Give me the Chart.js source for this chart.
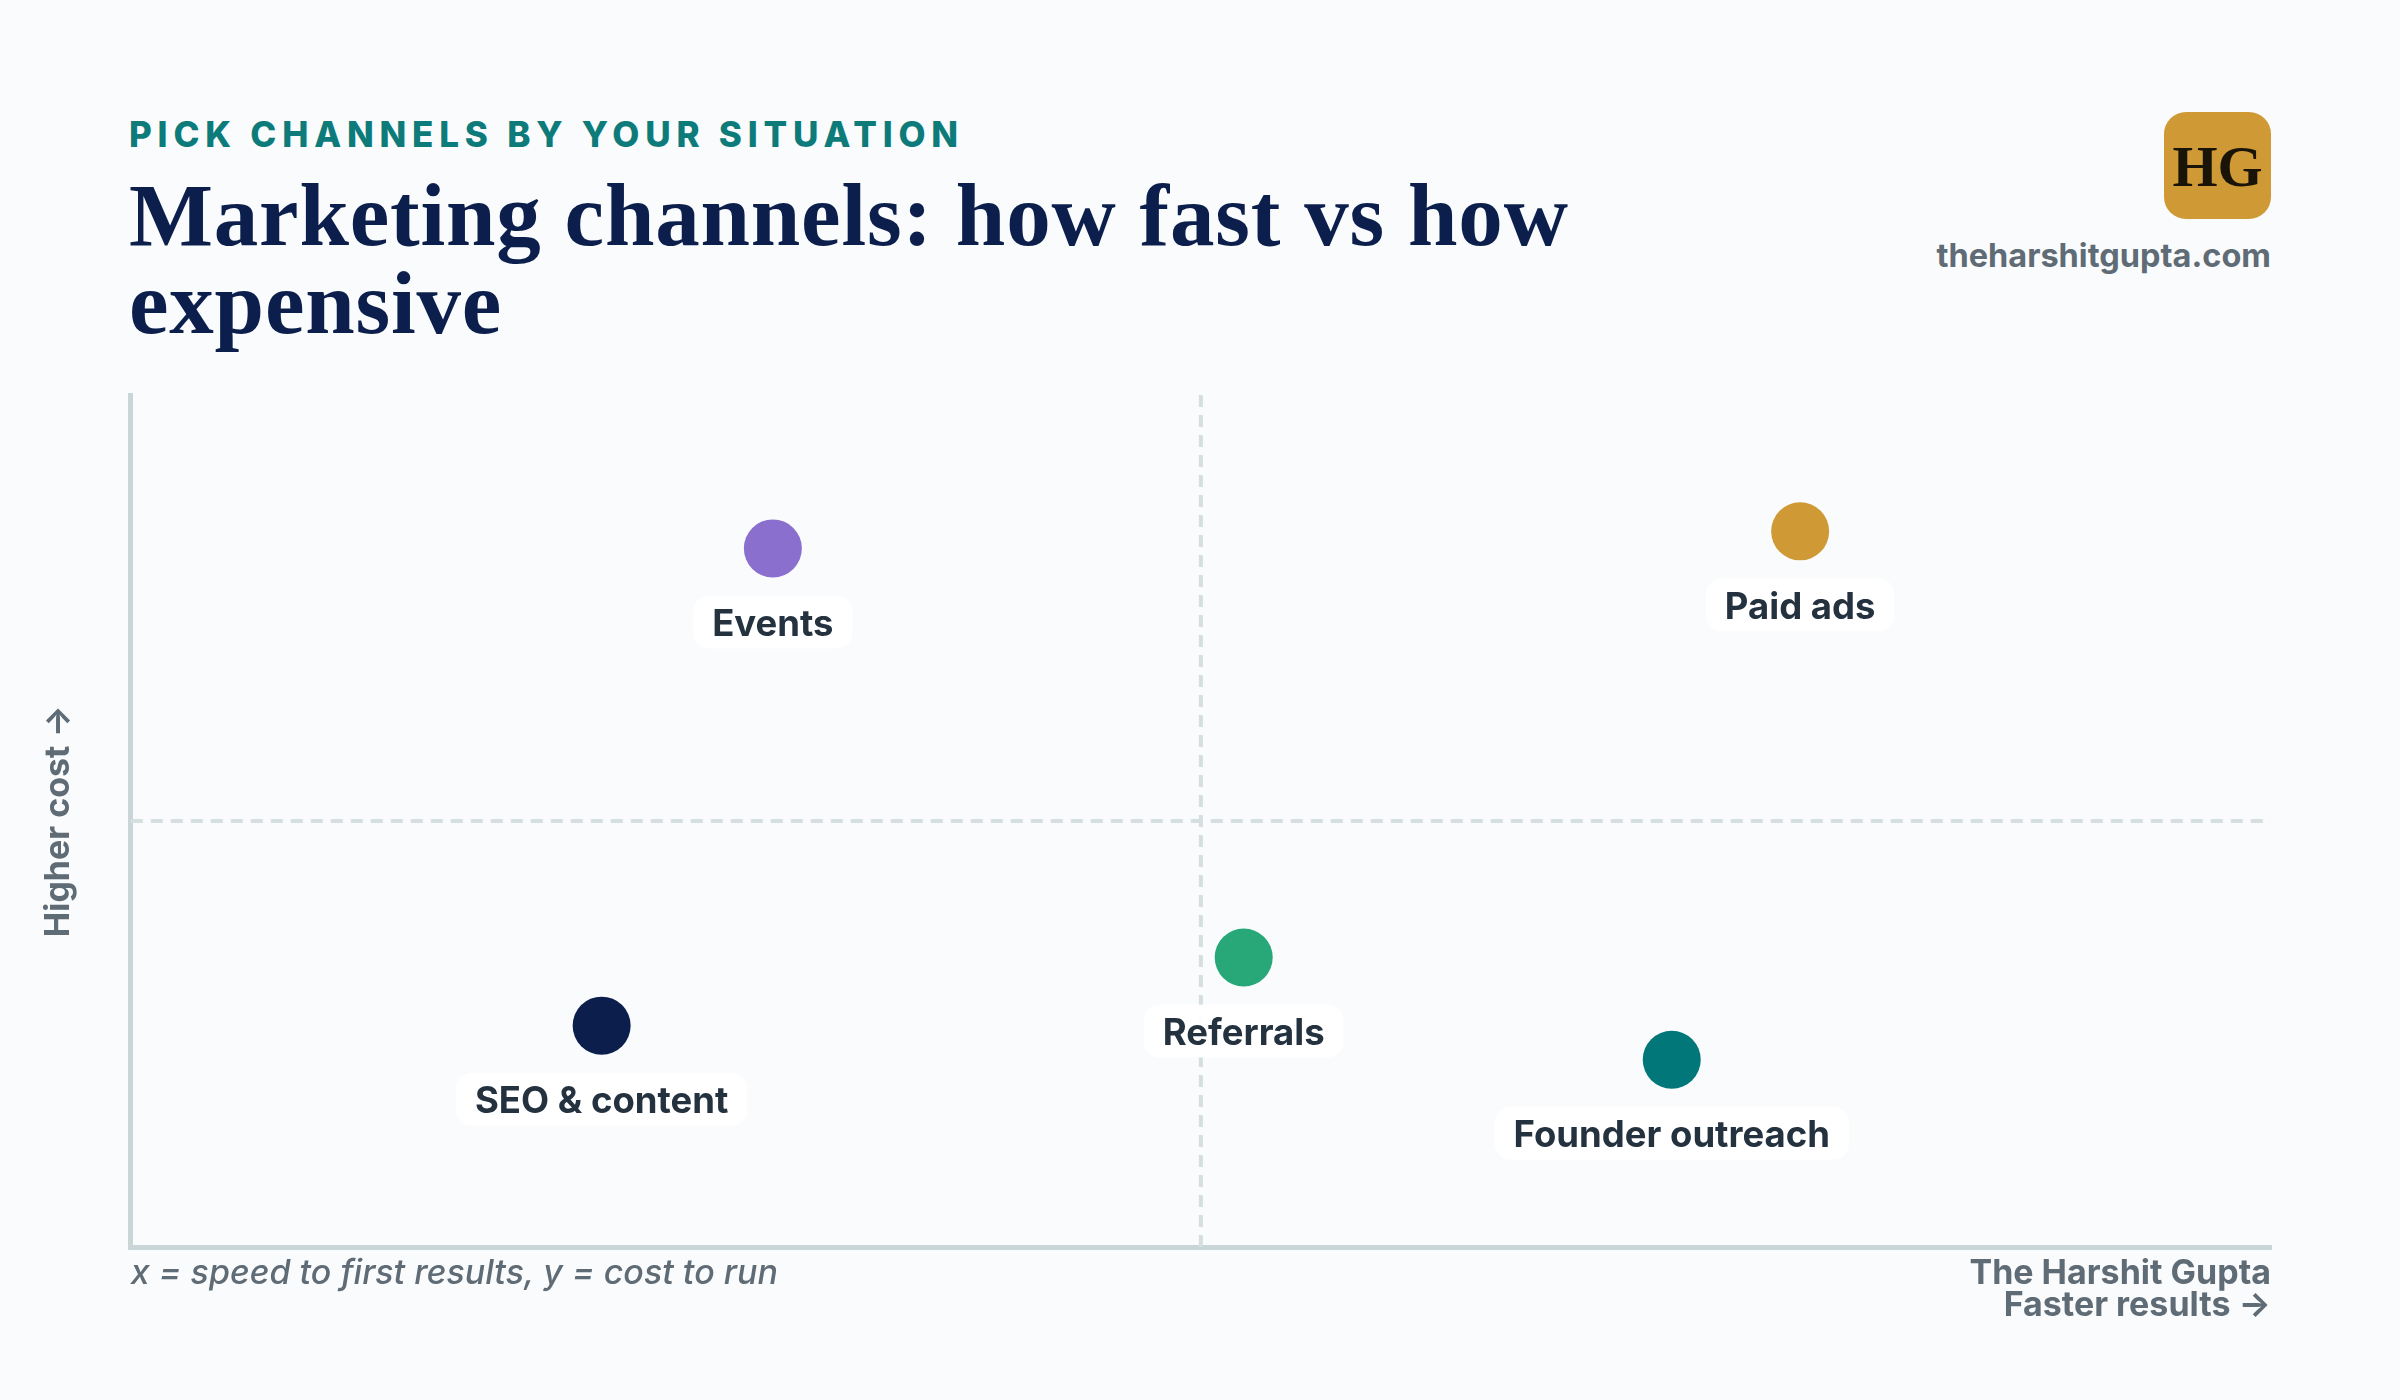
<!DOCTYPE html>
<html>
<head>
    <title>Marketing channels</title>
    <meta charset="UTF-8" />
    <script src="https://cdn.jsdelivr.net/npm/chart.js@4"></script>
    <style>
        html, body { margin: 0; padding: 0; background: #f9fbfd; }
        body { width: 2400px; height: 1400px; position: relative; overflow: hidden; font-family: Inter, "Noto Sans", sans-serif; }
        .kicker { position: absolute; left: 129px; top: 112px; font-size: 35px; font-weight: 800; letter-spacing: 5.8px; color: #0e7b7b; line-height: 44px; }
        h1 { position: absolute; left: 129px; top: 171px; margin: 0; font-family: "Liberation Serif", serif; font-weight: 700; font-size: 89px; line-height: 88px; color: #0c1f4c; letter-spacing: 0.8px; }
        .logo { position: absolute; left: 2164px; top: 112px; width: 107px; height: 107px; border-radius: 22px; background: #cf9a36; color: #1a1408; font-family: "Liberation Serif", serif; font-weight: 700; font-size: 58px; line-height: 109px; text-align: center; }
        .site { position: absolute; right: 129px; top: 236px; font-size: 32.5px; font-weight: 700; color: #5f6b75; }
        canvas { position: absolute; left: 0; top: 0; }
    </style>
</head>
<body>
    <div class="kicker">PICK CHANNELS BY YOUR SITUATION</div>
    <h1>Marketing channels: how fast vs how<br>expensive</h1>
    <div class="logo">HG</div>
    <div class="site">theharshitgupta.com</div>
    <canvas id="chart" width="2400" height="1400"></canvas>

    <script>
        // speed to first results (x) and cost to run (y), 0..10
        const channels = ['Events', 'Paid ads', 'Referrals', 'SEO & content', 'Founder outreach'];
        const speed = [3.0, 7.8, 5.2, 2.2, 7.2];
        const cost = [8.2, 8.4, 3.4, 2.6, 2.2];
        const colors = ['#8b6fce', '#cf9a36', '#28a878', '#0c1f4c', '#02777a'];

        const grey = '#5f6b75';

        // quadrant mid-lines
        const midLines = {
            id: 'midLines',
            beforeDatasetsDraw(chart) {
                const { ctx, chartArea: a, scales: { x, y } } = chart;
                ctx.save();
                ctx.strokeStyle = '#d5dfe0';
                ctx.lineWidth = 4;
                ctx.setLineDash([12, 8]);
                const mx = x.getPixelForValue(5), my = y.getPixelForValue(5);
                ctx.beginPath();
                ctx.moveTo(mx, a.top); ctx.lineTo(mx, a.bottom);
                ctx.moveTo(a.left, my); ctx.lineTo(a.right, my);
                ctx.stroke();
                ctx.restore();
            }
        };

        // labels under each dot + footer notes
        const pointLabels = {
            id: 'pointLabels',
            afterDatasetsDraw(chart) {
                const { ctx, chartArea: a } = chart;
                ctx.save();
                ctx.font = '700 36.5px Inter';
                ctx.textAlign = 'center';
                ctx.textBaseline = 'middle';
                chart.getDatasetMeta(0).data.forEach((pt, i) => {
                    const w = ctx.measureText(channels[i]).width + 38;
                    const h = 53, top = pt.y + 47;
                    ctx.fillStyle = 'rgba(255,255,255,0.92)';
                    ctx.beginPath();
                    ctx.roundRect(pt.x - w / 2, top, w, h, 16);
                    ctx.fill();
                    ctx.fillStyle = '#24313f';
                    ctx.fillText(channels[i], pt.x, top + h / 2 + 3);
                });
                ctx.fillStyle = grey;
                ctx.font = 'italic 500 34px Inter';
                ctx.textAlign = 'left';
                ctx.fillText('x = speed to first results, y = cost to run', a.left, a.bottom + 27);
                ctx.font = '700 34px Inter';
                ctx.textAlign = 'right';
                ctx.fillText('The Harshit Gupta', a.right, a.bottom + 27);
                ctx.restore();
            }
        };

        new Chart('chart', {
            type: 'scatter',
            data: {
                datasets: [{
                    data: speed.map((s, i) => ({ x: s, y: cost[i] })),
                    backgroundColor: colors,
                    borderWidth: 0,
                    pointRadius: 29,
                    pointHoverRadius: 29
                }]
            },
            plugins: [midLines, pointLabels],
            options: {
                responsive: false,
                animation: false,
                layout: { autoPadding: false, padding: { left: 38, right: 129, top: 395, bottom: 74 } },
                scales: {
                    x: {
                        min: 0, max: 10,
                        ticks: { display: false },
                        grid: { display: false, drawTicks: false },
                        border: { color: '#c9d5d7', width: 5 },
                        title: {
                            display: true, text: 'Faster results →', align: 'end',
                            color: grey, font: { family: 'Inter', size: 34, weight: '700', lineHeight: 1.2 },
                            padding: { top: 38, bottom: 0 }
                        }
                    },
                    y: {
                        min: 0, max: 10,
                        ticks: { display: false },
                        grid: { display: false, drawTicks: false },
                        border: { color: '#c9d5d7', width: 5 },
                        title: {
                            display: true, text: 'Higher cost →',
                            color: grey, font: { family: 'Inter', size: 34, weight: '700', lineHeight: 1.2 },
                            padding: { top: 0, bottom: 52 }
                        }
                    }
                },
                plugins: {
                    legend: { display: false },
                    tooltip: { enabled: false }
                }
            }
        });
    </script>
</body>
</html>
